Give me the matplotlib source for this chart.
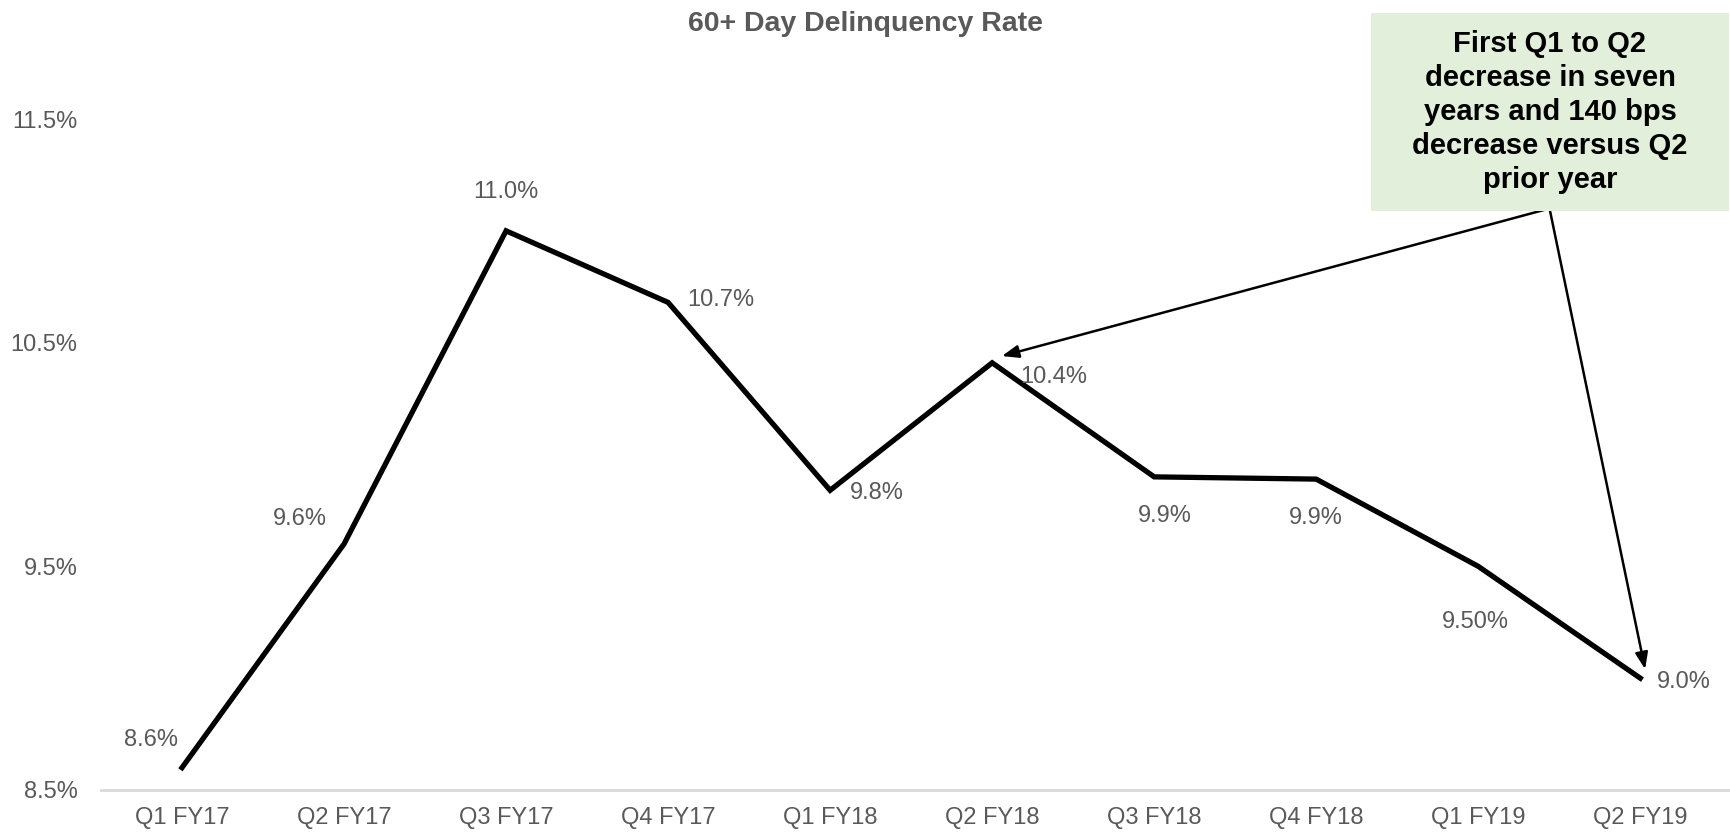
import matplotlib.pyplot as plt

quarters = ["Q1 FY17", "Q2 FY17", "Q3 FY17", "Q4 FY17", "Q1 FY18",
            "Q2 FY18", "Q3 FY18", "Q4 FY18", "Q1 FY19", "Q2 FY19"]
rates = [8.6, 9.6, 11.0, 10.68, 9.84, 10.41, 9.90, 9.89, 9.5, 9.0]
labels = ["8.6%", "9.6%", "11.0%", "10.7%", "9.8%",
          "10.4%", "9.9%", "9.9%", "9.50%", "9.0%"]
yticks = [8.5, 9.5, 10.5, 11.5]
note = "First Q1 to Q2\ndecrease in seven\nyears and 140 bps\ndecrease versus Q2\nprior year"

# label offsets in points (dx, dy) and alignment
offs = [(-22, 20, "center"), (-32, 18, "center"), (0, 28, "center"), (14, 2, "left"),
        (14, -2, "left"), (20, -10, "left"), (8, -28, "center"), (0, -28, "center"),
        (-2, -40, "center"), (12, -3, "left")]

plt.rcParams['font.family'] = ['Liberation Sans', 'DejaVu Sans']
grey = "#595959"

fig = plt.figure(figsize=(17.31, 8.35), dpi=100)
ax = fig.add_axes([101 / 1731, 45 / 835, 1630 / 1731, 671 / 835])

x = list(range(len(quarters)))
ax.plot(x, rates, color="black", lw=3.8, solid_joinstyle="miter")

for i, (v, t) in enumerate(zip(rates, labels)):
    dx, dy, ha = offs[i]
    ax.annotate(t, (i, v), xytext=(dx, dy), textcoords="offset points",
                ha=ha, va="center", fontsize=17, color=grey)

ax.set_xlim(-0.5, 9.56)
ax.set_ylim(8.5, 11.5)
ax.set_xticks(x)
ax.set_xticklabels(quarters, fontsize=17, color=grey)
ax.set_yticks(yticks)
ax.set_yticklabels([f"{t:.1f}%" for t in yticks], fontsize=17, color=grey)
ax.tick_params(length=0)
ax.tick_params(axis="x", pad=12)
ax.tick_params(axis="y", pad=17)
for s in ["top", "right", "left"]:
    ax.spines[s].set_visible(False)
ax.spines["bottom"].set_color("#D9D9D9")
ax.spines["bottom"].set_linewidth(2)

fig.text(0.5, 1 - 24 / 835, "60+ Day Delinquency Rate", ha="center", va="center",
         fontsize=20.5, fontweight="bold", color=grey)

# callout box
fig.patches.append(plt.Rectangle((1371 / 1731, 1 - 211 / 835), 358 / 1731, 198 / 835,
                                 transform=fig.transFigure, facecolor="#E2EFDA",
                                 edgecolor="none", zorder=0))
fig.text(1550 / 1731, 1 - 112 / 835, note, ha="center", va="center", fontsize=21,
         fontweight="bold", color="black", linespacing=1.28)

start = (8.44, 11.1)
for tgt in [(5.06, 10.44), (9.03, 9.04)]:
    ax.annotate("", xy=tgt, xytext=start,
                arrowprops=dict(arrowstyle="-|>,head_length=1.0,head_width=0.38",
                                color="black", lw=1.8, shrinkA=0, shrinkB=0),
                annotation_clip=False)

fig.savefig("out.png", dpi=100)
